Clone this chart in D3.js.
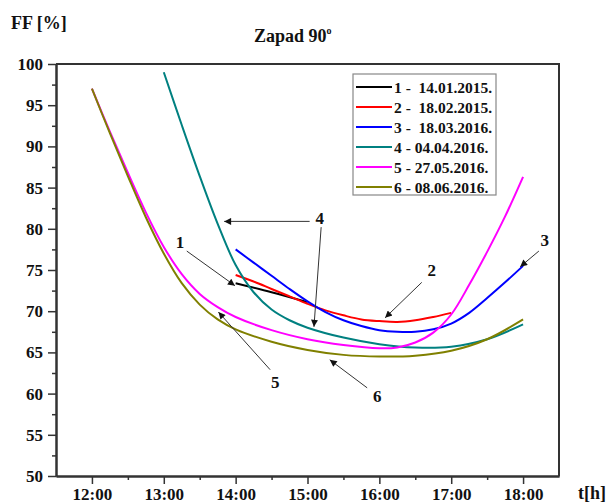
<!DOCTYPE html>
<html><head><meta charset="utf-8">
<script src="https://cdn.jsdelivr.net/npm/d3@7"></script>
<style>
body{margin:0;background:#fff}
svg text{font-family:"Liberation Serif","Times New Roman",serif;font-weight:bold;fill:#111}
</style></head><body><svg id="c" width="610" height="504"></svg>
<script>
// ---- data ----
const seriesLabels = ["1 -  14.01.2015.","2 -  18.02.2015.","3 -  18.03.2016.","4 - 04.04.2016.","5 - 27.05.2016.","6 - 08.06.2016."];
const seriesColors = ["#000000","#ff0000","#0000ff","#008080","#ff00ff","#808000"];
const t1 = [14.0,14.5,15.0];
const ff1 = [73.4,72.3,71.1];
const t2 = [14.0,14.25,14.5,14.75,15.0,15.25,15.5,15.75,16.0,16.25,16.5,16.75,17.0];
const ff2 = [74.4,73.6,72.7,71.8,70.9,70.1,69.5,69.0,68.8,68.7,68.9,69.3,69.8];
const t3 = [14.0,14.25,14.5,14.75,15.0,15.25,15.5,15.75,16.0,16.25,16.5,16.75,17.0,17.25,17.5,17.75,18.0];
const ff3 = [77.5,75.9,74.3,72.7,71.2,69.9,68.9,68.2,67.7,67.5,67.5,67.8,68.5,69.8,71.6,73.5,75.5];
const t4 = [13.0,13.25,13.5,13.75,14.0,14.25,14.5,14.75,15.0,15.5,16.0,16.5,17.0,17.5,18.0];
const ff4 = [99.0,92.6,86.4,80.6,75.6,72.3,70.2,68.9,68.0,66.8,66.0,65.6,65.7,66.6,68.4];
const t5 = [12.0,12.25,12.5,12.75,13.0,13.25,13.5,13.75,14.0,14.5,15.0,15.5,16.0,16.25,16.5,16.75,17.0,17.25,17.5,17.75,18.0];
const ff5 = [97.0,91.8,86.8,82.0,77.8,74.5,72.1,70.5,69.3,67.7,66.6,65.9,65.5,65.6,66.2,67.4,69.6,73.2,77.2,81.5,86.3];
const t6 = [12.0,12.25,12.5,12.75,13.0,13.25,13.5,13.75,14.0,14.5,15.0,15.5,16.0,16.5,17.0,17.5,18.0];
const ff6 = [97.0,91.6,86.4,81.4,77.0,73.4,70.8,69.0,67.8,66.3,65.3,64.7,64.5,64.6,65.2,66.6,69.0];

const xTicks = [12,13,14,15,16,17,18];
const xTickLabels = ["12:00","13:00","14:00","15:00","16:00","17:00","18:00"];
const xMinorTicks = [12.5,13.5,14.5,15.5,16.5,17.5];
const yTicks = [50,55,60,65,70,75,80,85,90,95,100];
const yMinorTicks = [52.5,57.5,62.5,67.5,72.5,77.5,82.5,87.5,92.5,97.5];

// annotations (data coordinates)
const annoText = ["1","2","3","4","5","6"];
const annoT = [13.225,16.73,18.3,15.17,14.55,15.97];
const annoV = [78.3,75.0,78.6,81.2,61.3,59.6];
const arrowFromT = [13.32,16.59,18.22,15.03,15.19,14.48,15.83];
const arrowFromV = [77.3,73.5,77.3,80.9,80.2,62.9,60.7];
const arrowToT = [13.99,16.08,17.96,13.84,15.09,13.76,15.31];
const arrowToV = [73.1,69.2,75.4,80.9,68.1,69.9,64.1];

// ---- layout ----
const L = 56, R = 559, T = 64, B = 476;
const svg = d3.select("#c");
const x = d3.scaleLinear().domain([11.5,18.5]).range([L,R]);
const y = d3.scaleLinear().domain([50,100]).range([B,T]);

const defs = svg.append("defs");
defs.append("marker").attr("id","ah").attr("viewBox","0 0 10 10").attr("refX",10).attr("refY",5)
  .attr("markerWidth",9).attr("markerHeight",7).attr("markerUnits","userSpaceOnUse").attr("orient","auto")
  .append("path").attr("d","M0,0 L10,5 L0,10 Z").attr("fill","#111");

// frame top/right
svg.append("path").attr("d",`M${L},${T}H${R}V${B}`).attr("fill","none").attr("stroke","#333").attr("stroke-width",2);

// axes
svg.append("g").attr("transform",`translate(0,${B})`)
  .call(d3.axisBottom(x).tickValues(xTicks).tickFormat((d,i)=>xTickLabels[i]).tickSize(8).tickSizeOuter(0).tickPadding(4));
svg.append("g").attr("transform",`translate(0,${B})`)
  .call(d3.axisBottom(x).tickValues(xMinorTicks).tickFormat("").tickSize(4).tickSizeOuter(0));
svg.append("g").attr("transform",`translate(${L},0)`)
  .call(d3.axisLeft(y).tickValues(yTicks).tickSize(8).tickSizeOuter(0).tickPadding(5));
svg.append("g").attr("transform",`translate(${L},0)`)
  .call(d3.axisLeft(y).tickValues(yMinorTicks).tickFormat("").tickSize(4).tickSizeOuter(0));
svg.selectAll(".domain").attr("stroke","#333").attr("stroke-width",2);
svg.selectAll(".tick line").attr("stroke","#333").attr("stroke-width",1.5);
svg.selectAll(".tick text").style("font-size","17px").style("font-family","'Liberation Serif',serif").style("font-weight","bold").attr("fill","#111");

// series
const tSets = [t1,t2,t3,t4,t5,t6];
const vSets = [ff1,ff2,ff3,ff4,ff5,ff6];
const line = d3.line().x(d=>x(d[0])).y(d=>y(d[1])).curve(d3.curveCatmullRom.alpha(0.5));
tSets.forEach((ts,i)=>{
  const pts = ts.map((t,j)=>[t,vSets[i][j]]);
  svg.append("path").datum(pts).attr("d",line).attr("fill","none")
    .attr("stroke",seriesColors[i]).attr("stroke-width",2);
});

// annotations
arrowFromT.forEach((t,i)=>{
  svg.append("line").attr("x1",x(t)).attr("y1",y(arrowFromV[i]))
    .attr("x2",x(arrowToT[i])).attr("y2",y(arrowToV[i]))
    .attr("stroke","#333").attr("stroke-width",1).attr("marker-end","url(#ah)");
});
annoText.forEach((s,i)=>{
  svg.append("text").attr("x",x(annoT[i])).attr("y",y(annoV[i])).attr("text-anchor","middle")
    .attr("dominant-baseline","central").style("font-size","17px").text(s);
});

// legend
const lg = svg.append("g");
lg.append("rect").attr("x",353).attr("y",74).attr("width",143).attr("height",121)
  .attr("fill","#fff").attr("stroke","#888").attr("stroke-width",1.2);
seriesLabels.forEach((s,i)=>{
  const yy = 87 + i*20;
  lg.append("line").attr("x1",356).attr("x2",392).attr("y1",yy).attr("y2",yy)
    .attr("stroke",seriesColors[i]).attr("stroke-width",2);
  lg.append("text").attr("x",394).attr("y",yy).attr("dominant-baseline","central")
    .attr("xml:space","preserve").style("white-space","pre").style("font-size","15.5px").text(s);
});

// titles
svg.append("text").attr("x",11).attr("y",29).style("font-size","18px").text("FF [%]");
const ttl = svg.append("text").attr("x",254).attr("y",42).style("font-size","18px");
ttl.append("tspan").text("Zapad 90");
ttl.append("tspan").attr("dy",-8).style("font-size","10px").text("o");
svg.append("text").attr("x",578).attr("y",499).style("font-size","18px").text("t[h]");
</script></body></html>
